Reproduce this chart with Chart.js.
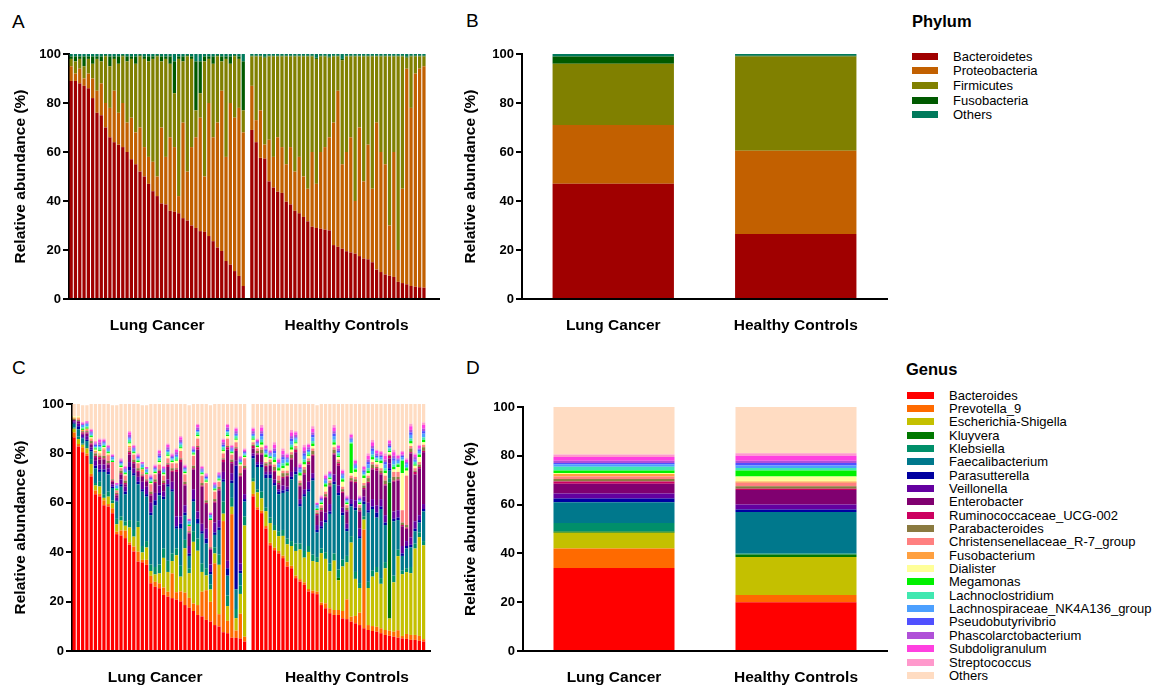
<!DOCTYPE html>
<html>
<head>
<meta charset="utf-8">
<script src="https://cdn.jsdelivr.net/npm/chart.js@4.4.0/dist/chart.umd.min.js"></script>
<style>
  html, body { margin: 0; padding: 0; background: #fff; }
  body { width: 1156px; height: 685px; position: relative; overflow: hidden; font-family: "Liberation Sans", Arial, sans-serif; color: #000; }
  canvas { position: absolute; }
  .letter { position: absolute; font-size: 19px; line-height: 1; }
  .ltitle { position: absolute; font-size: 16.5px; font-weight: bold; line-height: 1; }
  .sw { position: absolute; }
  .lt { position: absolute; font-size: 13px; line-height: 15px; white-space: nowrap; }
</style>
</head>
<body>
<div class="letter" style="left:12px;top:12px">A</div>
<div class="letter" style="left:466px;top:11px">B</div>
<div class="letter" style="left:12px;top:358px">C</div>
<div class="letter" style="left:466px;top:358px">D</div>
<div class="ltitle" style="left:912px;top:13px">Phylum</div>
<div class="ltitle" style="left:906px;top:361px">Genus</div>
<div id="legA"></div>
<div id="legC"></div>
<canvas id="cA" width="450" height="345" style="left:0;top:0"></canvas>
<canvas id="cB" width="450" height="345" style="left:450px;top:0"></canvas>
<canvas id="cC" width="450" height="335" style="left:0;top:350px"></canvas>
<canvas id="cD" width="450" height="335" style="left:450px;top:350px"></canvas>
<script>
// ---------------- categories / names ----------------
const groups = ['Lung Cancer', 'Healthy Controls'];
const phyla = ['Bacteroidetes', 'Proteobacteria', 'Firmicutes', 'Fusobacteria', 'Others'];
const phylumColors = ['#a00000', '#c26000', '#808000', '#005a00', '#007a5c'];
const genera = ['Bacteroides', 'Prevotella_9', 'Escherichia-Shigella', 'Kluyvera', 'Klebsiella', 'Faecalibacterium',
  'Parasutterella', 'Veillonella', 'Enterobacter', 'Ruminococcaceae_UCG-002', 'Parabacteroides',
  'Christensenellaceae_R-7_group', 'Fusobacterium', 'Dialister', 'Megamonas', 'Lachnoclostridium',
  'Lachnospiraceae_NK4A136_group', 'Pseudobutyrivibrio', 'Phascolarctobacterium', 'Subdoligranulum',
  'Streptococcus', 'Others'];
const genusColors = ['#ff0000', '#ff6a00', '#c4c000', '#007800', '#008f6a', '#00788c', '#0000a0', '#6400a0',
  '#800070', '#cc0060', '#8a7a40', '#ff8080', '#ffa040', '#ffff99', '#00f000', '#40e8b0', '#4ca0ff',
  '#5050ff', '#b050d8', '#ff40e0', '#ff99cc', '#ffdcc2'];
const yTicks = [0, 20, 40, 60, 80, 100];

// ---------------- Panel A: phylum per sample ----------------
const A_LC_Bacteroidetes = [89,89,88,87,86,82,76,75,70,66,64,63,62,60,57,55,52,50,47,44,42,39,38.6,36,35.6,35,33,32,30,29,27.7,27.4,25.7,23.6,21,19.6,15.5,14,11.4,9.4,5.3];
const A_LC_Proteobacteria = [6,3,6,3,6,8,9,13,10,12,21,13,18,12,17,13,18,12,11,12,8,31,19.4,30,26.4,7,39,20,32,37,46.3,22.6,54.3,42.4,51,65.4,42.5,66,62.6,68.6,62.7];
const A_LC_Firmicutes = [3,5,4,5,6,6,13,9,19,17,13,20,19,25,24,28,29,36,39,42,49,27,40,30,22,56,25,47,36,11,10,47,18,30,27,12,40,16,25,20,9];
const A_LC_Fusobacteria = [1,2,1,4,1,3,1,2,0.5,4,1,3,0.5,2,1,3,0.5,1,2,1,0.5,2,1,3,13,1,2,0.5,1,20,13,2,1,3,0.5,2,1,3,0.5,1,20];
const A_LC_Others = [1,1,1,1,1,1,1,1,0.5,1,1,1,0.5,1,1,1,0.5,1,1,1,0.5,1,1,1,3,1,1,0.5,1,3,3,1,1,1,0.5,1,1,1,0.5,1,3];

const A_HC_Bacteroidetes = [69,64,57.6,57.3,48,45.5,43.8,43.3,39.7,38.6,36,35,33.5,31.7,29.5,29,28.7,28.3,28,22,21.3,20.5,19.5,19,18.5,17.5,16.5,16.2,15,12,11,10,9.5,9,7,6.5,6,5.3,5,4.8,4.6];
const A_HC_Proteobacteria = [18,9,19.4,5.7,17,12.5,22.2,18.7,15.3,23.4,16,23,16.5,13.3,30.5,18,31.3,33.7,38,50,63.7,34.5,40.5,47,21.5,52.5,31.5,46.8,30,60,49,45,20.5,51,13,38.5,88,72.7,87,89.2,90.4];
const A_HC_Firmicutes = [12,26,22,35.5,34,41,33,37,44,37,47,41,49,54,39,51,39,37,32.5,27,14,42.5,39,33,59,29,51,36,54,27,39,44,69,39,79,54,4.5,21,7,5,4];
const A_HC_Fusobacteria = [0.3,0.3,0.3,0.5,0.3,0.3,0.3,0.3,0.3,0.3,0.3,0.3,0.3,0.3,0.3,0.5,0.3,0.3,0.5,0.3,0.3,0.5,0.3,0.3,0.3,0.3,0.3,0.3,0.3,0.3,0.3,0.3,0.3,0.3,0.3,0.3,0.5,0.3,0.3,0.3,0.3];
const A_HC_Others = [0.7,0.7,0.7,1,0.7,0.7,0.7,0.7,0.7,0.7,0.7,0.7,0.7,0.7,0.7,1.5,0.7,0.7,1,0.7,0.7,2,0.7,0.7,0.7,0.7,0.7,0.7,0.7,0.7,0.7,0.7,0.7,0.7,0.7,0.7,1,0.7,0.7,0.7,0.7];

// ---------------- Panel B: phylum group means ----------------
const B_LungCancer = [47, 24, 25, 3, 1];
const B_HealthyControls = [26.5, 34, 38.5, 0.3, 0.7];

// ---------------- Panel C: genus per sample (Lung Cancer) ----------------
const C_LC_Bacteroides = [86.5,82.8,80.5,79,70.7,63.5,62.6,59,58.5,55.8,47.3,46.8,45.7,43,40.3,36.2,35.9,34.9,27.4,26,25.4,22.7,22,21.4,20.8,20.1,18.6,17.5,16.2,14.6,14,12.6,11.9,10.5,9.9,7.6,7.2,5.4,5.3,5.1,3.8];
const C_LC_Prevotella = [2,1,2,1,1,1.5,1,2,1,2,1,2,3,1,2,4,1,2,3,2,2,3,2,10,3,4,5,4,3,4,10,12,8,25,5,45,5,50,3,10,2];
const C_LC_Escherichia = [1.5,2,1,2,4,2,3,1,3,2,3,4,2,6,4,10,3,5,2,3,4,12,8,5,15,6,18,10,25,22,8,6,5,4,20,3,6,3,5,8,45];
const C_LC_Kluyvera = [0,0,0,0,0,0,0,0,0,0,0,0,0,0,0,0,0,0,0,0,0,0,0,0,0,0,0,0,0,0,0,0,0,0,0,0,0,0,0,0,0];
const C_LC_Klebsiella = [0.5,1,0.5,1,2,1,1.9,1.5,2,1.2,2.2,1.7,1.8,3,2.7,2.3,2.6,2.6,2.6,3,3.6,3.8,4.5,3.1,2.7,4.4,3.4,2,4.3,4.9,3.5,2.9,2.1,2.5,4.1,4.9,4.3,3.6,3.7,3.4,3.7];
const C_LC_Faecalibacterium = [1.5,3,2,2,3,6,4,9,7,5,7,12,11,20,22,15,22,18,20,25,28,20,30,25,8,15,10,5,12,6,12,10,4,5,10,8,8,6,8,5,6];
const C_LC_Parasutterella = [0.5,1.2,0.5,0.5,0.8,1,1,1,1,0.5,0.5,1,1,1.5,1,1,1,1,1,2,1,1,1,1,1,2,1,1,1,2,1,2,1,1,1,1,3,1,50,1,1];
const C_LC_Veillonella = [0.5,1,1,1.5,1,2,2,2,1.5,1,1,2,2,2,2,2,3,3,4,3,3,2,2,3,4,3,3,3,4,3,3,4,3,4,3,3,3,3,2,3,2];
const C_LC_Enterobacter = [0.5,1,0.5,1,1,1.5,2,2,1.5,1,1,2,1,3,2,2,2,2,3,4,5,3,5,4,18,22,8,5,8,25,15,10,6,8,12,4,45,4,4,35,10];
const C_LC_Ruminococcaceae = [0,0,0.5,0.5,0.5,0.5,1,0.5,0.5,0.5,0.5,0.5,0.5,1,0.5,0.5,0.5,0.5,0.5,0.5,1,0.5,1,0.5,1,1,0.5,0.5,0.5,1,0.5,0.5,0.5,0.5,0.5,1,1,0.5,1,0.5,0.5];
const C_LC_Parabacteroides = [0.5,0.5,0.5,0.5,1,1,0.5,1,1,0.5,0.5,1,1,0.5,1,1,0.5,0.5,1,1,0.5,1,0.5,1,0.5,0.5,1,0.5,1,0.5,1,1,0.5,1,1,0.5,0.5,1,0.5,1,1];
const C_LC_Christensenellaceae = [0,0.5,0,0.5,0.5,0.5,0.5,2.5,2,7,1,1,2,1.5,2,2,1,2,3,2,2,2,2,2,2,3,3,2,4,3,3,7,11,3,2,2,3,2,2,3,3];
const C_LC_Fusobacterium = [0.5,0.5,0.5,0.5,0.5,0.5,0.5,0.5,0.5,0,0,0,0,0.5,0,0,1,0,0,0,0,0,0,0,0,0,0,0,0,0,0,0,0,0,0,0,0,0,0,0,0];
const C_LC_Dialister = [0.5,0.5,0,0,0.5,0.5,1,0.5,0.5,0,0,0.5,0.5,1,0.5,0.5,0,0,0.5,0.5,1,0.5,1,0.5,1,1,0.5,0,0.5,1,0.5,0.5,0,0.5,0.5,1,1,0.5,1,0.5,0.5];
const C_LC_Megamonas = [0,0,0.5,0.5,0.5,0.5,0.5,0.5,0.5,0.5,0.5,0.5,0.5,0.5,0.5,0.5,0.5,0.5,0.5,0.5,0.5,0.5,0.5,0.5,0.5,0.5,0.5,0.5,0.5,0.5,0.5,0.5,0.5,0.5,0.5,0.5,0.5,0.5,0.5,0.5,0.5];
const C_LC_Lachnoclostridium = [0,0,0.5,0.5,0.5,0.5,1,0.5,0.5,0.5,0.5,0.5,0.5,1,0.5,0.5,0.5,0.5,0.5,0.5,1,0.5,1,0.5,1,1,0.5,0.5,0.5,1,0.5,0.5,0.5,0.5,0.5,1,1,0.5,1,0.5,0.5];
const C_LC_Lachnospiraceae = [0,0,1,1,0.5,0.5,0.5,0.5,0.5,1,1,0.5,0.5,0.5,0.5,0.5,1,1,0.5,0.5,0.5,0.5,0.5,0.5,0.5,0.5,0.5,1,0.5,0.5,0.5,0.5,1,0.5,0.5,0.5,0.5,0.5,0.5,0.5,0.5];
const C_LC_Pseudobutyrivibrio = [0,0,0,0,0.5,0.5,0.5,0.5,0.5,0,0,0.5,0.5,0.5,0.5,0.5,0,0,0.5,0.5,0.5,0.5,0.5,0.5,0.5,0.5,0.5,0,0.5,0.5,0.5,0.5,0,0.5,0.5,0.5,0.5,0.5,0.5,0.5,0.5];
const C_LC_Phascolarctobacterium = [0,0,0.5,0.5,0.5,0.5,1,0.5,0.5,0.5,0.5,0.5,0.5,1,0.5,0.5,0.5,0.5,0.5,0.5,1,0.5,1,0.5,1,1,0.5,0.5,0.5,1,0.5,0.5,0.5,0.5,0.5,1,1,0.5,1,0.5,0.5];
const C_LC_Subdoligranulum = [0,0,0.5,0.5,0.5,0.5,1,0.5,0.5,0.5,0.5,0.5,0.5,1,0.5,0.5,0.5,0.5,0.5,0.5,1,0.5,1,0.5,1,1,0.5,0.5,0.5,1,0.5,0.5,0.5,0.5,0.5,1,1,0.5,1,0.5,0.5];
const C_LC_Streptococcus = [0,0,0,0,0.5,0.5,0.5,0.5,0.5,0,0,0.5,0.5,0.5,0.5,0.5,0,0,0.5,0.5,0.5,0.5,0.5,0.5,0.5,0.5,0.5,0,0.5,0.5,0.5,0.5,0,0.5,0.5,0.5,0.5,0.5,0.5,0.5,0.5];
const C_LC_Others = [5,5,7,6.5,10,15,14,14,16.5,20,31.5,22,25,11,16.5,20,23,25,28.5,24.5,18.5,25,16,20,18,13,24.5,46,17,8,25,28,43.5,31.5,27.5,14,8,16.5,9.5,21,18];

// ---------------- Panel C: genus per sample (Healthy Controls) ----------------
const C_HC_Bacteroides = [62.6,57.2,55.8,49.6,42.8,40.8,39.5,37.6,34.2,33.5,29.5,28.1,26.8,24.1,23.4,23,18.6,17.3,15.3,14.6,14.6,13.2,12.9,11.9,11.2,10.5,9.2,8.5,8.1,7.8,7.2,6.5,6.2,5.8,5.4,5.1,4.9,4.5,4.5,4.1,3.8];
const C_HC_Prevotella = [1,1,1,1,1,1,1,1,2,1,1,1,1,1,1,1,1,2,2,2,2,3,8,2,3,5,40,2,2,2,2,2,2,2,3,1,2,2,2,2,1];
const C_HC_Escherichia = [5,6,5,6,8,7,6,8,7,8,10,12,10,15,12,12,20,18,15,20,12,18,15,30,15,10,4,15,20,22,18,25,5,20,30,25,25,25,35,40,38];
const C_HC_Kluyvera = [0,0,0,0,0,0,0,0,0,0,0,0,0,0,0,0,0,0,0,0,1,0,0,0,0,0,0,0,0,0,0,0,55,0,0,0,0,0,0,0,0];
const C_HC_Klebsiella = [1.4,1.3,2.7,1.4,2.2,2.2,2,2.4,2.3,2,3,2.4,2.7,2.4,2.6,2,1.9,2.7,3.2,2.9,3.4,2.8,2.6,2.6,2.8,2,1.3,2.5,2.4,2.2,2.3,2.5,1.8,2.7,2.6,1.4,1.6,2.5,2,1.9,1.7];
const C_HC_Faecalibacterium = [8,9,10,12,16,16,15,15,19,25,28,15,22,22,30,10,8,12,20,28,30,18,10,12,25,18,5,28,25,20,28,15,3,22,12,6,8,8,5,4,12];
const C_HC_Parasutterella = [1,1,1,1.5,1.5,1,1,1,1,1,1,1,1,1,1,1,1,1,1,1,1,1,1,1,1,1,1,1,1,2,1,1,1,1,1,1,1,1,1,1,1];
const C_HC_Veillonella = [1,1,1,1,1,1.5,1,2,1,2,2,2,2,3,2,2,2,3,3,3,3,2,2,2,3,3,2,3,3,3,3,3,2,3,3,3,2,3,3,2,2];
const C_HC_Enterobacter = [2,3,3,2,2.5,3,2,3,4,5,6,5,6,7,7,4,4,6,7,8,8,6,5,7,7,7,3,8,12,14,10,12,2,12,12,8,5,34,19,19,21];
const C_HC_Ruminococcaceae = [1,0.5,0.5,0.5,0.5,0.5,0.5,0.5,0.5,0.5,1,0.5,0.5,1,0.5,0.5,0.5,0.5,0.5,0.5,1,0.5,0.5,0.5,0.5,0.5,0.5,0.5,0.5,1,0.5,0.5,1,0.5,0.5,0.5,0.5,0.5,1,0.5,0.5];
const C_HC_Parabacteroides = [0.5,1,1.5,1,1,1.5,1,1.5,1,1.5,0.5,1,1.5,0.5,1.5,0.5,1,1,1,1.5,0.5,1,1,1,1,1,1,1.5,1.5,0.5,1,1.5,0.5,1.5,1,1,1,1.5,0.5,1,1.5];
const C_HC_Christensenellaceae = [1,1,1,0.5,1,1,2,1,1,1,1,1,1,1,1,1,1,1,1,1,1,1,1,1,1,1,1,1,1,1,1,2,0,2,2,5,20,1,1,1,1];
const C_HC_Fusobacterium = [0,0,0,0,0,0,0,0,0,0,0,0,0,0,0,0,0,0,0,0,0,0,0,0,0,0,0,0,0,0,0,0,0,0,0,0,0,0,0,0,0];
const C_HC_Dialister = [1,0.5,1,2,0.5,1,2,1,2,1,1,2,1,1,1,0,0.5,2,0.5,1,1,2,0.5,1,2,0.5,2,1,1,1,2,1,1,1,2,15,2,1,1,2,1];
const C_HC_Megamonas = [0.5,0.5,1,1,0.5,1,1,1,1,1,0.5,1,1,0.5,1,0.5,0.5,1,0.5,1,0.5,1,0.5,12,1,0.5,1,1,1,0.5,1,1,0.5,1,1,5,1,1,0.5,1,1];
const C_HC_Lachnoclostridium = [1,0.5,1,0.5,0.5,1,0.5,1,0.5,1,1,0.5,1,1,1,0.5,0.5,0.5,0.5,1,1,0.5,0.5,0.5,0.5,0.5,0.5,1,1,1,0.5,1,1,1,0.5,0.5,0.5,1,1,0.5,1];
const C_HC_Lachnospiraceae = [0.5,0.5,1.5,1,0.5,1.5,1,1.5,1,1.5,0.5,1,1.5,0.5,1.5,1,0.5,1,0.5,1.5,0.5,1,0.5,1,1,0.5,1,1.5,1.5,0.5,1,1.5,0.5,1.5,1,1,1,1.5,0.5,1,1.5];
const C_HC_Pseudobutyrivibrio = [0.5,0.5,1,0.5,0.5,1,0.5,1,0.5,1,0.5,0.5,1,0.5,1,0,0.5,0.5,0.5,1,0.5,0.5,0.5,0.5,0.5,0.5,0.5,1,1,0.5,0.5,1,0.5,1,0.5,0.5,0.5,1,0.5,0.5,1];
const C_HC_Phascolarctobacterium = [1,0.5,1,0.5,0.5,1,0.5,1,0.5,1,1,0.5,1,1,1,0.5,0.5,0.5,0.5,1,1,0.5,0.5,0.5,0.5,0.5,0.5,1,1,1,0.5,1,1,1,0.5,0.5,0.5,1,1,0.5,1];
const C_HC_Subdoligranulum = [1,0.5,1.5,1,0.5,1.5,1,1.5,1,1.5,1,1,1.5,1,1.5,0.5,0.5,1,0.5,1.5,1,1,0.5,1,1,0.5,1,1.5,1.5,1,1,1.5,1,1.5,1,1,1,1.5,1,1,1.5];
const C_HC_Streptococcus = [0.5,0.5,1,0.5,0.5,1,0.5,1,0.5,1,0.5,0.5,1,0.5,1,0,0.5,0.5,0.5,1,0.5,0.5,0.5,0.5,0.5,0.5,0.5,1,1,0.5,0.5,1,0.5,1,0.5,0.5,0.5,1,0.5,0.5,1];
const C_HC_Others = [9.5,14,8.5,16.5,18.5,15.5,22,18,20,10.5,11,24,16.5,16,9,39.5,37,28.5,27,8.5,16.5,26.5,37,12,22.5,37,25,20,14.5,18.5,19,20,14.5,18.5,20.5,19,22,8,20,16.5,7.5];

// ---------------- Panel D: genus group means ----------------
const D_LungCancer = [34,8,6.5,0.5,3.5,8.5,1.5,2,4,1,1,1,1,0.5,1,1.5,1,0.5,1,1.5,1,19.5];
const D_HealthyControls = [20,3,15.5,1,0.5,17,1,2,6,0.5,1,1.5,0.5,2,2.5,1,1,1,1,2,1,19];

// ---------------- assemble ----------------
const A_LC = [A_LC_Bacteroidetes, A_LC_Proteobacteria, A_LC_Firmicutes, A_LC_Fusobacteria, A_LC_Others];
const A_HC = [A_HC_Bacteroidetes, A_HC_Proteobacteria, A_HC_Firmicutes, A_HC_Fusobacteria, A_HC_Others];
const C_LC = [C_LC_Bacteroides, C_LC_Prevotella, C_LC_Escherichia, C_LC_Kluyvera, C_LC_Klebsiella, C_LC_Faecalibacterium,
  C_LC_Parasutterella, C_LC_Veillonella, C_LC_Enterobacter, C_LC_Ruminococcaceae, C_LC_Parabacteroides,
  C_LC_Christensenellaceae, C_LC_Fusobacterium, C_LC_Dialister, C_LC_Megamonas, C_LC_Lachnoclostridium,
  C_LC_Lachnospiraceae, C_LC_Pseudobutyrivibrio, C_LC_Phascolarctobacterium, C_LC_Subdoligranulum,
  C_LC_Streptococcus, C_LC_Others];
const C_HC = [C_HC_Bacteroides, C_HC_Prevotella, C_HC_Escherichia, C_HC_Kluyvera, C_HC_Klebsiella, C_HC_Faecalibacterium,
  C_HC_Parasutterella, C_HC_Veillonella, C_HC_Enterobacter, C_HC_Ruminococcaceae, C_HC_Parabacteroides,
  C_HC_Christensenellaceae, C_HC_Fusobacterium, C_HC_Dialister, C_HC_Megamonas, C_HC_Lachnoclostridium,
  C_HC_Lachnospiraceae, C_HC_Pseudobutyrivibrio, C_HC_Phascolarctobacterium, C_HC_Subdoligranulum,
  C_HC_Streptococcus, C_HC_Others];

Chart.defaults.font.family = '"Liberation Sans", Arial, sans-serif';
Chart.defaults.color = '#000';

function yAxis(width) {
  return {
    stacked: true, min: 0, max: 100,
    afterBuildTicks(s) { s.ticks = yTicks.map(v => ({ value: v })); },
    ticks: { padding: 2, color: '#000', font: { size: 13, weight: 'bold' } },
    grid: { drawOnChartArea: false, drawTicks: true, tickLength: 6, color: '#000', lineWidth: 2 },
    border: { display: true, color: '#000', width: 2 },
    title: { display: true, text: 'Relative abundance (%)', color: '#000',
      font: { size: 15.5, weight: 'bold' }, padding: { top: 11, bottom: 0 } },
    afterFit(s) { s.width = width; }
  };
}
function xAxis(height) {
  return {
    stacked: true,
    grid: { display: false },
    border: { display: true, color: '#000', width: 2 },
    ticks: { autoSkip: false, maxRotation: 0, minRotation: 0, padding: 9, color: '#000',
      font: { size: 15.5, weight: 'bold' } },
    afterFit(s) { s.height = height; }
  };
}
function makeChart(id, labels, datasets, yW, xH, pad, barPct) {
  return new Chart(document.getElementById(id), {
    type: 'bar',
    data: { labels: labels, datasets: datasets },
    options: {
      responsive: false, animation: false, devicePixelRatio: 1,
      layout: { padding: pad },
      plugins: { legend: { display: false }, tooltip: { enabled: false } },
      datasets: { bar: { categoryPercentage: 1, barPercentage: barPct, borderWidth: 0 } },
      scales: { x: xAxis(xH), y: yAxis(yW) }
    }
  });
}
function sampleLabels(total, lungIdx, healthyIdx) {
  const l = [];
  for (let i = 0; i < total; i++) l.push('');
  l[lungIdx] = groups[0];
  l[healthyIdx] = groups[1];
  return l;
}
function pad(arr, n) { const r = arr.slice(); for (let i = 0; i < n; i++) r.push(null); return r; }

// Panel A
const A_labels = sampleLabels(86, 20, 64);
const A_sets = phyla.map((p, k) => ({
  label: p, backgroundColor: phylumColors[k],
  data: pad([...A_LC[k], null, ...A_HC[k]], 3)
}));
makeChart('cA', A_labels, A_sets, 69, 46, { left: 0, top: 54, right: 11, bottom: 0 }, 0.76);

// Panel B
const B_sets = phyla.map((p, k) => ({
  label: p, backgroundColor: phylumColors[k],
  data: [B_LungCancer[k], B_HealthyControls[k]]
}));
makeChart('cB', groups, B_sets, 72, 46, { left: 0, top: 54, right: 13, bottom: 0 }, 0.665);

// Panel C
const C_labels = sampleLabels(84, 19, 64);
const C_sets = genera.map((g, k) => ({
  label: g, backgroundColor: genusColors[k],
  data: pad([...C_LC[k], null, ...C_HC[k]], 1)
}));
makeChart('cC', C_labels, C_sets, 72, 34, { left: 0, top: 54, right: 20, bottom: 0 }, 0.76);

// Panel D
const D_sets = genera.map((g, k) => ({
  label: g, backgroundColor: genusColors[k],
  data: [D_LungCancer[k], D_HealthyControls[k]]
}));
makeChart('cD', groups, D_sets, 73, 34, { left: 0, top: 57, right: 13, bottom: 0 }, 0.665);

// Legends (HTML text)
function buildLegend(containerId, names, colors, firstCenter, step, swX, swW, swH, txX) {
  const c = document.getElementById(containerId);
  names.forEach((n, i) => {
    const cy = firstCenter + i * step;
    const s = document.createElement('div');
    s.className = 'sw';
    s.style.left = swX + 'px'; s.style.top = (cy - swH / 2) + 'px';
    s.style.width = swW + 'px'; s.style.height = swH + 'px';
    s.style.background = colors[i];
    c.appendChild(s);
    const t = document.createElement('div');
    t.className = 'lt';
    t.style.left = txX + 'px'; t.style.top = (cy - 7.5) + 'px';
    t.textContent = n;
    c.appendChild(t);
  });
}
buildLegend('legA', phyla, phylumColors, 56, 14.7, 912, 26, 7, 953);
buildLegend('legC', genera, genusColors, 395, 13.35, 907, 27, 7, 949);
</script>
</body>
</html>
